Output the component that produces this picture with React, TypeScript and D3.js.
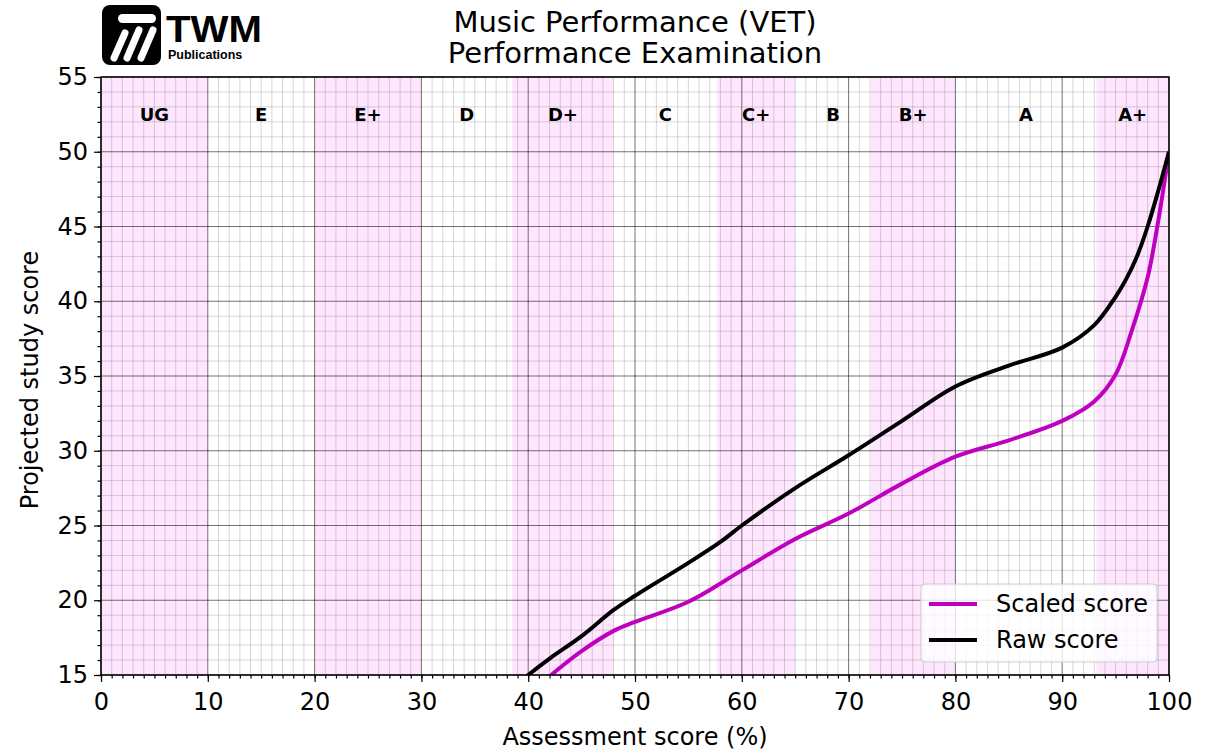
import { useEffect, useRef } from "react";
import * as d3 from "d3";

// grade bands along the assessment axis
const grades = ["UG", "E", "E+", "D", "D+", "C", "C+", "B", "B+", "A", "A+"];
const gradeEdges = [0, 10, 20, 30, 38.5, 48, 57.7, 65, 72.1, 80, 93.2, 100];

// curves
const rawX = [39, 40, 42, 45, 48, 50, 55, 58, 60, 65, 70, 75, 80, 85, 90, 93, 95, 96, 97, 98, 99, 100];
const rawY = [14.4, 15, 16.1, 17.6, 19.35, 20.3, 22.5, 23.9, 25.0, 27.5, 29.7, 32.0, 34.3, 35.7, 36.9, 38.4, 40.3, 41.5, 43.0, 45.0, 47.4, 50];

const scaledX = [41, 42, 43, 45, 48, 50, 55, 60, 65, 70, 75, 80, 85, 90, 93, 95, 96.5, 98, 99, 100];
const scaledY = [14.3, 14.9, 15.5, 16.6, 17.95, 18.55, 19.9, 22.0, 24.1, 25.8, 27.8, 29.6, 30.7, 32.0, 33.3, 35.1, 38.0, 41.6, 45.4, 50];

const xTicks = [0, 10, 20, 30, 40, 50, 60, 70, 80, 90, 100];
const yTicks = [15, 20, 25, 30, 35, 40, 45, 50, 55];

const W = 1216;
const H = 752;
const FONT = "DejaVu Sans, sans-serif";
const FS = 24;

export default function App() {
  const svgRef = useRef<SVGSVGElement>(null);

  useEffect(() => {
    if (!svgRef.current) return;
    const svg = d3.select(svgRef.current);
    svg.selectAll("*").remove();

    const left = 101, right = 1169, top = 77, bottom = 675;
    const x = d3.scaleLinear().domain([0, 100]).range([left, right]);
    const y = d3.scaleLinear().domain([15, 55]).range([bottom, top]);

    svg.append("rect").attr("width", W).attr("height", H).attr("fill", "#fff");

    // pink bands
    grades.forEach((g, i) => {
      if (i % 2 === 0) {
        svg
          .append("rect")
          .attr("x", x(gradeEdges[i]))
          .attr("y", top)
          .attr("width", x(gradeEdges[i + 1]) - x(gradeEdges[i]))
          .attr("height", bottom - top)
          .attr("fill", "#ffe6ff");
      }
    });

    // minor grid
    const minorG = svg.append("g");
    d3.range(1, 100).forEach((v) => {
      if (v % 10 === 0) return;
      minorG.append("line").attr("x1", x(v)).attr("x2", x(v)).attr("y1", top).attr("y2", bottom)
        .attr("stroke", "#000").attr("stroke-opacity", 0.2).attr("stroke-width", 0.8);
    });
    d3.range(16, 55).forEach((v) => {
      if (v % 5 === 0) return;
      minorG.append("line").attr("x1", left).attr("x2", right).attr("y1", y(v)).attr("y2", y(v))
        .attr("stroke", "#000").attr("stroke-opacity", 0.2).attr("stroke-width", 0.8);
    });

    // major grid
    xTicks.forEach((v) => {
      svg.append("line").attr("x1", x(v)).attr("x2", x(v)).attr("y1", top).attr("y2", bottom)
        .attr("stroke", "#000").attr("stroke-opacity", 0.55).attr("stroke-width", 1);
    });
    yTicks.forEach((v) => {
      svg.append("line").attr("x1", left).attr("x2", right).attr("y1", y(v)).attr("y2", y(v))
        .attr("stroke", "#000").attr("stroke-opacity", 0.55).attr("stroke-width", 1);
    });

    // grade labels
    grades.forEach((g, i) => {
      svg.append("text")
        .attr("x", x((gradeEdges[i] + gradeEdges[i + 1]) / 2))
        .attr("y", y(52.5))
        .attr("text-anchor", "middle")
        .attr("dominant-baseline", "central")
        .attr("font-family", FONT)
        .attr("font-weight", "bold")
        .attr("font-size", 18)
        .text(g);
    });

    // curves
    svg.append("clipPath").attr("id", "plotclip").append("rect")
      .attr("x", left).attr("y", top).attr("width", right - left).attr("height", bottom - top);
    const line = d3.line<[number, number]>().x((d) => x(d[0])).y((d) => y(d[1])).curve(d3.curveCatmullRom.alpha(0.5));
    const scaled = scaledX.map((v, i) => [v, scaledY[i]] as [number, number]);
    const raw = rawX.map((v, i) => [v, rawY[i]] as [number, number]);
    svg.append("path").attr("d", line(scaled)).attr("fill", "none").attr("stroke", "#bf00bf")
      .attr("stroke-width", 4).attr("clip-path", "url(#plotclip)");
    svg.append("path").attr("d", line(raw)).attr("fill", "none").attr("stroke", "#000")
      .attr("stroke-width", 4).attr("clip-path", "url(#plotclip)");

    // axes
    const xAxis = svg.append("g").attr("transform", `translate(0,${bottom})`);
    xAxis.call(d3.axisBottom(x).tickValues(d3.range(0, 101, 1)).tickSize(3.5).tickFormat(() => ""));
    xAxis.call((g) => g.select(".domain").remove());
    const xMaj = svg.append("g").attr("transform", `translate(0,${bottom})`)
      .call(d3.axisBottom(x).tickValues(xTicks).tickSize(7).tickPadding(11).tickFormat(d3.format("d")));
    xMaj.select(".domain").remove();
    xMaj.selectAll("text").attr("font-size", FS).attr("font-family", FONT).attr("fill", "#000");

    const yAxis = svg.append("g").attr("transform", `translate(${left},0)`);
    yAxis.call(d3.axisLeft(y).tickValues(d3.range(15, 56, 1)).tickSize(3.5).tickFormat(() => ""));
    yAxis.call((g) => g.select(".domain").remove());
    const yMaj = svg.append("g").attr("transform", `translate(${left},0)`)
      .call(d3.axisLeft(y).tickValues(yTicks).tickSize(7).tickPadding(6).tickFormat(d3.format("d")));
    yMaj.select(".domain").remove();
    yMaj.selectAll("text").attr("font-size", FS).attr("font-family", FONT).attr("fill", "#000");
    svg.selectAll(".tick line").attr("stroke", "#000").attr("stroke-width", 1.2);

    // frame
    svg.append("rect").attr("x", left).attr("y", top).attr("width", right - left).attr("height", bottom - top)
      .attr("fill", "none").attr("stroke", "#000").attr("stroke-width", 1.5);

    // axis titles
    svg.append("text").attr("x", (left + right) / 2).attr("y", 745).attr("text-anchor", "middle")
      .attr("font-family", FONT).attr("font-size", FS).text("Assessment score (%)");
    svg.append("text").attr("transform", `translate(38,380) rotate(-90)`)
      .attr("text-anchor", "middle").attr("font-family", FONT).attr("font-size", FS).text("Projected study score");

    // title
    svg.append("text").attr("x", (left + right) / 2).attr("y", 32).attr("text-anchor", "middle")
      .attr("font-family", FONT).attr("font-size", 29).text("Music Performance (VET)");
    svg.append("text").attr("x", (left + right) / 2).attr("y", 63).attr("text-anchor", "middle")
      .attr("font-family", FONT).attr("font-size", 29).text("Performance Examination");

    // legend
    const lg = svg.append("g");
    lg.append("rect").attr("x", 921).attr("y", 584).attr("width", 236).attr("height", 78).attr("rx", 4)
      .attr("fill", "#fff").attr("fill-opacity", 0.8).attr("stroke", "#ccc");
    [["Scaled score", "#bf00bf", 604], ["Raw score", "#000", 640]].forEach(([label, c, yy]) => {
      lg.append("line").attr("x1", 929).attr("x2", 977).attr("y1", yy as number).attr("y2", yy as number)
        .attr("stroke", c as string).attr("stroke-width", 4);
      lg.append("text").attr("x", 996).attr("y", yy as number).attr("dominant-baseline", "central")
        .attr("font-family", FONT).attr("font-size", FS).text(label as string);
    });

    // logo
    const logo = svg.append("g");
    logo.append("rect").attr("x", 102).attr("y", 5).attr("width", 59).attr("height", 60).attr("rx", 8).attr("fill", "#000");
    logo.append("rect").attr("x", 118).attr("y", 14).attr("width", 38).attr("height", 9).attr("rx", 4.5).attr("fill", "#fff");
    [[125, 33, 114, 58], [139, 30, 127, 58], [153, 30, 141, 58]].forEach(([x1, y1, x2, y2]) => {
      logo.append("line").attr("x1", x1).attr("y1", y1).attr("x2", x2).attr("y2", y2)
        .attr("stroke", "#fff").attr("stroke-width", 7).attr("stroke-linecap", "round");
    });
    logo.append("text").attr("x", 166).attr("y", 42).attr("font-family", "Liberation Sans, Arial, sans-serif")
      .attr("font-weight", "bold").attr("font-size", 36).attr("textLength", 96)
      .attr("lengthAdjust", "spacingAndGlyphs").text("TWM");
    logo.append("text").attr("x", 168).attr("y", 59).attr("font-family", "Liberation Sans, Arial, sans-serif")
      .attr("font-weight", "bold").attr("font-size", 12.5).text("Publications");
  }, []);

  return (
    <svg
      ref={svgRef}
      width={W}
      height={H}
      style={{ position: "absolute", left: 0, top: 0, display: "block" }}
    ></svg>
  );
}
